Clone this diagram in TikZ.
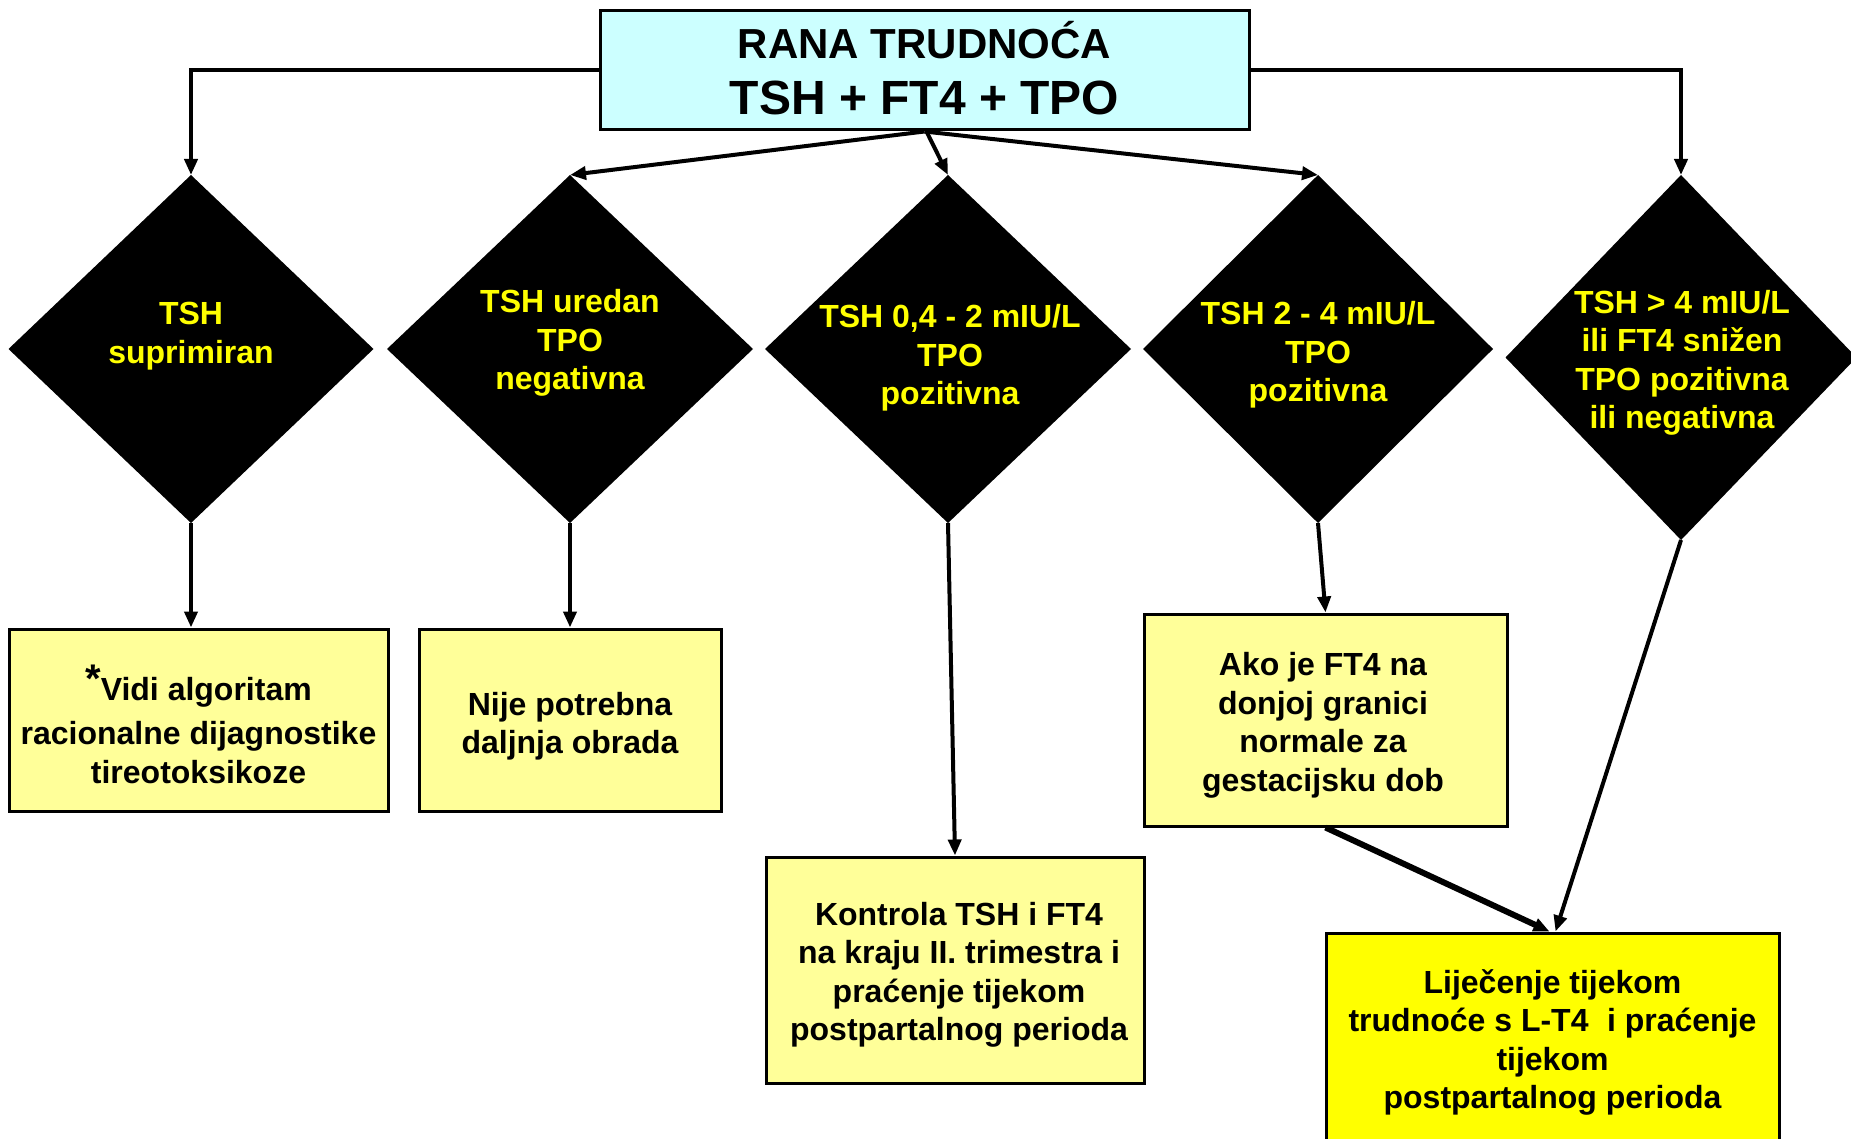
\documentclass[tikz,border=0pt]{standalone}
\usepackage{fontspec}
\setmainfont{Liberation Sans}
\usetikzlibrary{shapes.geometric,arrows.meta}
\definecolor{topfill}{HTML}{CCFFFF}
\definecolor{boxfill}{HTML}{FFFF99}
\definecolor{hotfill}{HTML}{FFFF00}
\definecolor{dtextc}{HTML}{FFFF00}
\begin{document}
\begin{tikzpicture}[x=1pt,y=-1pt,
  dia/.style={diamond, fill=black, draw=none, inner sep=0pt, outer sep=0pt},
  dlabel/.style={text=dtextc, font=\bfseries\fontsize{32}{38.5}\selectfont, align=center, inner sep=0pt},
  box/.style={draw=black, line width=3pt, fill=boxfill, inner sep=0pt},
  blabel/.style={font=\bfseries\fontsize{32}{38.5}\selectfont, align=center, inner sep=0pt},
  conn/.style={line width=4pt, -{Triangle[length=16pt,width=13pt]}},
]
\useasboundingbox (0,0) rectangle (1851,1139);
\clip (0,0) rectangle (1851,1139);
\fill[white] (0,0) rectangle (1851,1139);

% top box
\node[draw=black, line width=3pt, fill=topfill, minimum width=649pt, minimum height=119pt, inner sep=0pt] (top) at (924.5,70.5) {};
\node[align=center, inner sep=0pt, font=\bfseries\fontsize{42}{56}\selectfont] (toptxt) at (924.5,68)
  {RANA TRUDNOĆA\\{\fontsize{48}{56}\selectfont TSH + FT4 + TPO}};

% diamonds
\node[dia, minimum width=365pt, minimum height=348pt] (d1) at (191,349) {};
\node[dia, minimum width=366pt, minimum height=348pt] (d2) at (570,349) {};
\node[dia, minimum width=366pt, minimum height=348pt] (d3) at (948,349) {};
\node[dia, minimum width=350pt, minimum height=348pt] (d4) at (1318,349) {};
\node[dia, minimum width=351pt, minimum height=365pt] (d5) at (1681,357.5) {};

\node[dlabel] (l1) at (191,336) {TSH\\suprimiran};
\node[dlabel] (l2) at (570,343) {TSH uredan\\TPO\\negativna};
\node[dlabel] (l3) at (950,358) {TSH 0,4 - 2 mIU/L\\TPO\\pozitivna};
\node[dlabel] (l4) at (1318,355) {TSH 2 - 4 mIU/L\\TPO\\pozitivna};
\node[dlabel] (l5) at (1682,363) {TSH > 4 mIU/L\\ili FT4 snižen\\TPO pozitivna\\ili negativna};

% boxes
\node[box, minimum width=379pt, minimum height=182pt] (b1) at (198.5,720) {};
\node[blabel] (bt1) at (198.5,724)
  {\raisebox{8pt}{\fontsize{40}{40}\selectfont *}Vidi algoritam\\[6pt]racionalne dijagnostike\\tireotoksikoze};
\node[box, minimum width=302pt, minimum height=182pt] (b2) at (570,720) {};
\node[blabel] (bt2) at (570,726) {Nije potrebna\\daljnja obrada};
\node[box, minimum width=378pt, minimum height=226pt] (b3) at (955,970) {};
\node[blabel] (bt3) at (959,975)
  {Kontrola TSH i FT4\\na kraju II. trimestra i\\praćenje tijekom\\postpartalnog perioda};
\node[box, minimum width=363pt, minimum height=212pt] (b4) at (1325.5,720) {};
\node[blabel] (bt4) at (1323,725.5)
  {Ako je FT4 na\\donjoj granici\\normale za\\gestacijsku dob};
\node[box, fill=hotfill, minimum width=453pt, minimum height=213pt] (b5) at (1552.5,1039.5) {};
\node[blabel] (bt5) at (1552.5,1042.5)
  {Liječenje tijekom\\trudnoće s L-T4\hspace{0.3em} i praćenje\\tijekom\\postpartalnog perioda};

% connectors
\draw[conn] (top.west) -| (d1.north);
\draw[conn] (top.east) -| (d5.north);
\draw[conn] (top.south) -- (d2.north);
\draw[conn] ([xshift=2pt]top.south) -- (d3.north);
\draw[conn] (top.south) -- (d4.north);
\draw[conn] (d1.south) -- (d1.south |- b1.north);
\draw[conn] (d2.south) -- (d2.south |- b2.north);
\draw[conn] (d3.south) -- (b3.north);
\draw[conn] (d4.south) -- (b4.north);
\draw[conn] (d5.south) -- ([xshift=3pt]b5.north);
\draw[conn, line width=6pt] (b4.south) -- ([xshift=-3pt]b5.north);
\end{tikzpicture}
\end{document}
